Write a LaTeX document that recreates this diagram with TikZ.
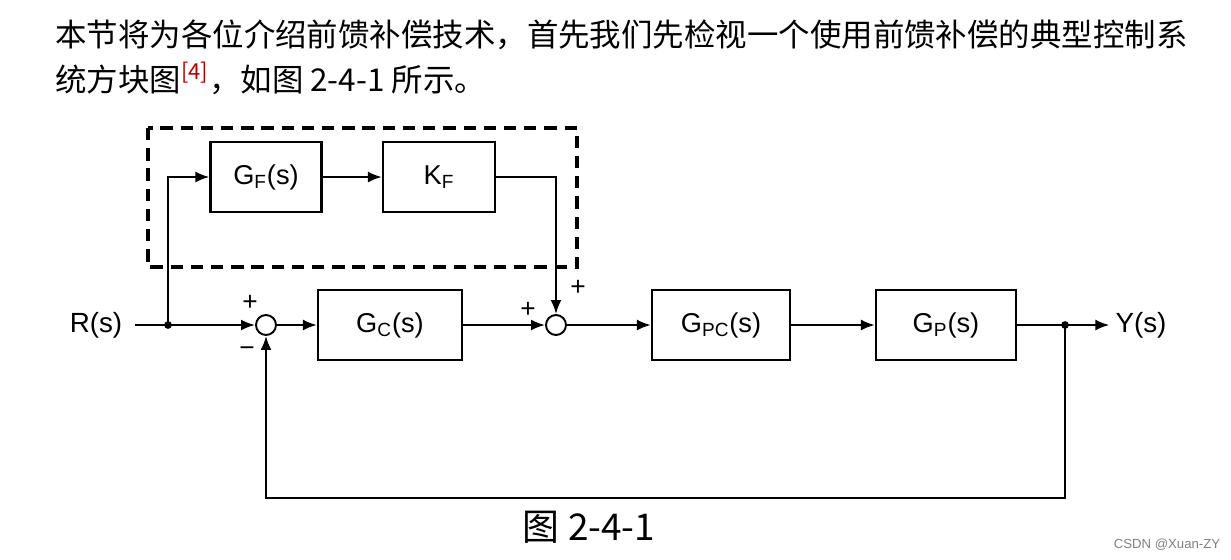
\documentclass[tikz,border=0pt]{standalone}
\usepackage{fontspec}
\setmainfont{Liberation Sans}
\newfontfamily\cjk{Noto Sans CJK SC}
\usetikzlibrary{arrows.meta,positioning,calc}
\colorlet{refcol}{red!70!black}
\newcommand{\sbs}[1]{\textsubscript{#1}}

\begin{document}
\begin{tikzpicture}[
x=0.02cm, y=-0.02cm,
Blocks/.style={draw,line width=1.3pt,minimum height=1.4cm,inner sep=0pt,font=\fontsize{15.5}{17}\selectfont},
SumPoints/.style={draw,circle,line width=1.1pt,minimum size=0.4cm,inner sep=0pt},
Wires/.style={line width=1.2pt,-{Latex[length=2.8mm, width=2.2mm]}},
Signs/.style={font=\fontsize{15}{16}\selectfont,inner sep=0pt},
every node/.style={}
]
\useasboundingbox (0,0) rectangle (1231,559);

% text above the figure
\node[anchor=base west,inner sep=0pt,font=\cjk\fontsize{17.9}{20}\selectfont] (line1) at (55,46)
{本节将为各位介绍前馈补偿技术，首先我们先检视一个使用前馈补偿的典型控制系};
\node[anchor=base west,inner sep=0pt,font=\cjk\fontsize{17.9}{20}\selectfont] (line2) at (55,91)
{统方块图\textsuperscript{\color{refcol}[4]}，如图 2-4-1 所示。};

% blocks
\node[Blocks,minimum width=2.22cm] (GF) at (266,177) {G\sbs{F}(s)};
\node[Blocks,minimum width=2.24cm] (KF) at (439,177) {K\sbs{F}};
\node[SumPoints] (S1) at (266,325) {};
\node[Blocks,minimum width=2.88cm] (GC) at (390,325) {G\sbs{C}(s)};
\node[SumPoints] (S2) at (556,325) {};
\node[Blocks,minimum width=2.76cm] (GPC) at (721,325) {G\sbs{PC}(s)};
\node[Blocks,minimum width=2.8cm] (GP) at (946,325) {G\sbs{P}(s)};

\node[font=\fontsize{15.8}{17}\selectfont] (R) at (96,325) {R(s)};
\node[font=\fontsize{15.8}{17}\selectfont] (Y) at (1141,325) {Y(s)};

\coordinate (B1) at (168,325);
\coordinate (B2) at (1065,325);
\coordinate (B3) at (1065,498);

% dashed feedforward region
\draw[line width=2.2pt,dash pattern=on 7pt off 4.5pt] (148,128) rectangle (577,267);

% connections
\draw[Wires,shorten <=4pt] (R) -- (S1);
\fill (B1) circle (2.2pt);
\draw[Wires] (B1) |- (GF.west);
\draw[Wires] (GF) -- (KF);
\draw[Wires] (KF.east) -| (S2.north);
\draw[Wires] (S1) -- (GC);
\draw[Wires] (GC) -- (S2);
\draw[Wires] (S2) -- (GPC);
\draw[Wires] (GPC) -- (GP);
\draw[Wires] (GP) -- (Y);
\fill (B2) circle (2.2pt);
\draw[Wires] (B2) -- (B3) -| (S1.south);

% signs
\node[Signs] (p1) at (250,303) {+};
\node[Signs] (m1) at (247,352) {−};
\node[Signs] (p2) at (528,310) {+};
\node[Signs] (p3) at (578,288) {+};

\node[font=\cjk\fontsize{21}{24}\selectfont] (cap) at (589,527) {图 2-4-1};
\node[font=\fontsize{7.5}{9}\selectfont,gray] (wm) at (1167,545) {CSDN @Xuan-ZY};

\end{tikzpicture}
\end{document}
